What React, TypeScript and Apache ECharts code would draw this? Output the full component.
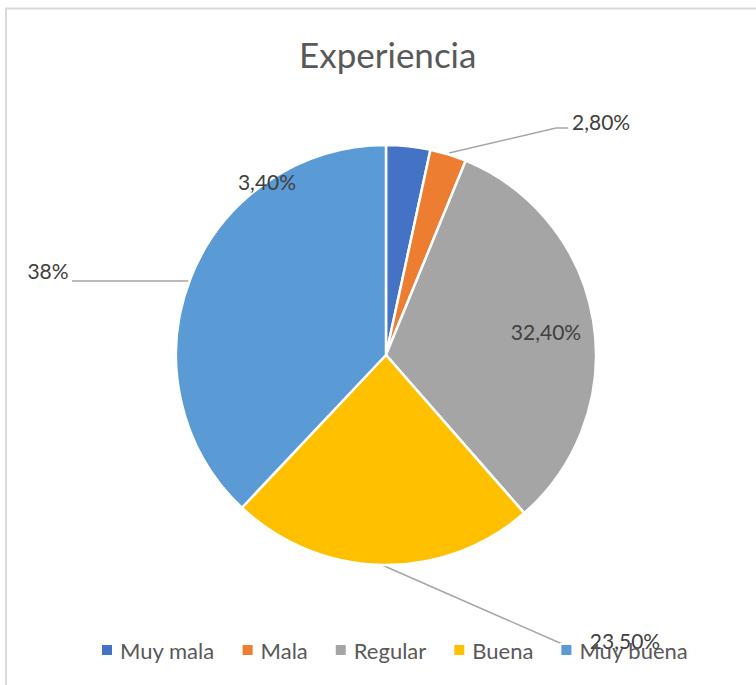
import React, { useEffect, useRef } from "react";
import * as echarts from "echarts";

const categories = ["Muy mala", "Mala", "Regular", "Buena", "Muy buena"];
const values = [3.4, 2.8, 32.4, 23.5, 38];
const labelTexts = ["3,40%", "2,80%", "32,40%", "23,50%", "38%"];
const colors = ["#4472C4", "#ED7D31", "#A5A5A5", "#FFC000", "#5B9BD5"];

const FONT = "Lato, 'Open Sans', sans-serif";

// label placement (style only)
const labelPos: any[] = [
  { x: 267, y: 181, align: "center", line: null },
  { x: 572, y: 121, align: "left", line: [[449, 153], [556, 128], [568, 128]] },
  { x: 546, y: 331, align: "center", line: null },
  { x: 625, y: 640, align: "center", line: [[382, 565], [560, 643], [573, 647]] },
  { x: 48, y: 270, align: "center", line: [[196, 281], [120, 281], [72, 281]] },
];

export default function App() {
  const ref = useRef<HTMLDivElement>(null);
  useEffect(() => {
    document.body.style.margin = "0";
    const chart = echarts.init(ref.current!, null, { renderer: "svg" });
    chart.setOption({
      animation: false,
      backgroundColor: "#ffffff",
      title: {
        text: "Experiencia",
        left: 294,
        top: 31,
        textStyle: { fontFamily: FONT, fontSize: 35, fontWeight: "normal", color: "#595959" },
      },
      legend: {
        top: 634,
        left: 95,
        icon: "rect",
        itemWidth: 12,
        itemHeight: 12,
        itemGap: 26,
        textStyle: { fontFamily: FONT, fontSize: 22, color: "#595959", padding: [0, 0, 0, 2] },
        data: categories,
      },
      graphic: [
        {
          type: "rect",
          shape: { x: 6, y: 8.5, width: 800, height: 800 },
          style: { fill: "none", stroke: "#d9d9d9", lineWidth: 2 },
          silent: true,
        },
      ],
      series: [
        {
          type: "pie",
          center: [386, 355],
          radius: 210,
          startAngle: 90,
          clockwise: true,
          itemStyle: { borderColor: "#ffffff", borderWidth: 2.5 },
          label: {
            show: true,
            fontFamily: FONT,
            fontSize: 21,
            color: "#404040",
            formatter: (p: any) => labelTexts[p.dataIndex],
          },
          labelLine: { show: true, lineStyle: { color: "#a6a6a6", width: 1.5 } },
          labelLayout: (p: any) => {
            const lp = labelPos[p.dataIndex];
            const r: any = { x: lp.x, y: lp.y, align: lp.align, verticalAlign: "middle" };
            if (lp.line) r.labelLinePoints = lp.line;
            return r;
          },
          data: categories.map((c, i) => ({
            name: c,
            value: values[i],
            itemStyle: { color: colors[i] },
            labelLine: { show: !!labelPos[i].line },
          })),
        },
      ],
    });
    return () => chart.dispose();
  }, []);
  return <div ref={ref} style={{ width: 756, height: 685 }} />;
}
